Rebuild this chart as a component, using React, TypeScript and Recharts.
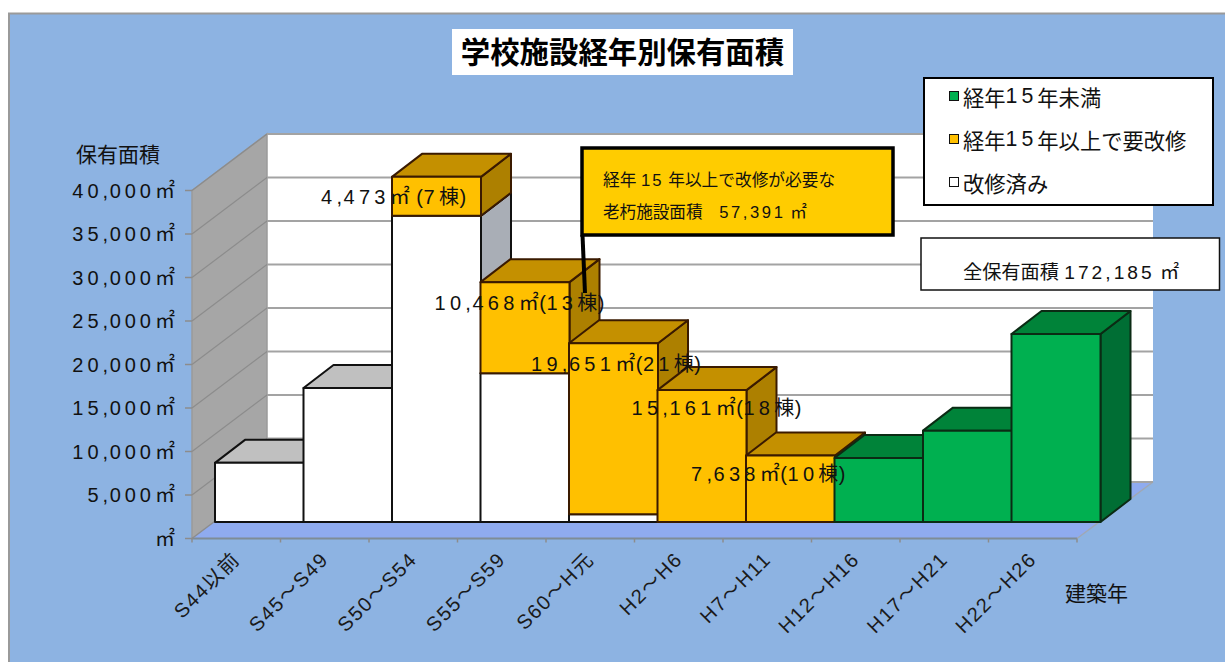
import React from "react";
import { BarChart, Bar, XAxis, YAxis, CartesianGrid, LabelList, Legend } from "recharts";

const categories = ["S44以前", "S45～S49", "S50～S54", "S55～S59", "S60～H元", "H2～H6", "H7～H11", "H12～H16", "H17～H21", "H22～H26"];
const renovatedValues = [6800, 15400, 35200, 17100, 900, 0, 0, 0, 0, 0];
const needsRepairValues = [0, 0, 4473, 10468, 19651, 15161, 7638, 0, 0, 0];
const under15Values = [0, 0, 0, 0, 0, 0, 0, 7350, 10500, 21600];
const repairLabels = ["", "", "4,473㎡ (7棟)", "10,468㎡(13棟)", "19,651㎡(21棟)", "15,161㎡(18棟)", "7,638㎡(10棟)", "", "", ""];
const yTicks = [0, 5000, 10000, 15000, 20000, 25000, 30000, 35000, 40000];
const seriesNames = { renovated: "改修済み", repair: "経年15年以上で要改修", under15: "経年15年未満" };

const rows = categories.map((category, i) => ({
  category,
  renovated: renovatedValues[i],
  repair: needsRepairValues[i],
  under15: under15Values[i],
  label: repairLabels[i],
}));

const FONT = '"Liberation Sans", "Noto Sans CJK JP", sans-serif';
const W = 1225;
const H = 662;
const PLOT = { left: 215, right: 1100, top: 174, bottom: 522 };
const BAR_DEPTH = { x: 30, y: -23 };
const FRONT = { x: -23, y: 16.5 }; // plot plane -> front axis plane
const BACK = { x: 52, y: -40 }; // plot plane -> back wall plane
const LABEL_NUDGE: Record<number, { dx: number; dy: number }> = {
  2: { dx: -71, dy: 27 },
  3: { dx: -46, dy: 28 },
  4: { dx: -38, dy: 28 },
  5: { dx: -26, dy: 25 },
  6: { dx: -55, dy: 25 },
};

const parts = (s: string) => s.split(/(\d+|,)/).filter(Boolean);
const spacingOf = (p: string, digit: number, other: number) => (/^\d/.test(p) ? digit : p === "," ? 1.5 : other);

const SpacedSvg = ({ s, spacing = 4, other = 0 }: { s: string; spacing?: number; other?: number }) => (
  <>
    {parts(s).map((p, i) => (
      <tspan key={i} style={{ letterSpacing: spacingOf(p, spacing, other) }}>{p}</tspan>
    ))}
  </>
);

const palette = {
  renovated: { front: "#FFFFFF", top: "#C0C0C0", side: "#A9AEB6", stroke: "#111111" },
  repair: { front: "#FFC000", top: "#C49000", side: "#AD8000", stroke: "#3A1A00" },
  under15: { front: "#00B050", top: "#008339", side: "#006E34", stroke: "#0B2B14" },
};

const box3d = (c: typeof palette.repair) => (props: any) => {
  const { x, y, width, height } = props;
  if (!height || height <= 0) return <g />;
  const dx = BAR_DEPTH.x;
  const dy = BAR_DEPTH.y;
  const common = { stroke: c.stroke, strokeWidth: 2, strokeLinejoin: "round" as const };
  return (
    <g>
      <polygon points={`${x + width},${y} ${x + width + dx},${y + dy} ${x + width + dx},${y + height + dy} ${x + width},${y + height}`} fill={c.side} {...common} />
      <polygon points={`${x},${y} ${x + dx},${y + dy} ${x + width + dx},${y + dy} ${x + width},${y}`} fill={c.top} {...common} />
      <rect x={x} y={y} width={width} height={height} fill={c.front} {...common} />
    </g>
  );
};

const gridLine = (props: any) => {
  const { x1, x2, y1, key } = props;
  return (
    <g key={key ?? y1}>
      <line x1={x1 + FRONT.x} y1={y1 + FRONT.y} x2={x1 + BACK.x} y2={y1 + BACK.y} stroke="#8C8C8C" strokeWidth={1.2} />
      <line x1={x1 + BACK.x} y1={y1 + BACK.y} x2={x2 + BACK.x + 1} y2={y1 + BACK.y} stroke="#A3A3A3" strokeWidth={2} />
    </g>
  );
};

const renderYTick = (props: any) => {
  const { y, payload } = props;
  const v = payload.value as number;
  const fy = y + FRONT.y;
  const fx = PLOT.left + FRONT.x;
  const label = v === 0 ? "㎡" : `${v.toLocaleString("en-US")}㎡`;
  return (
    <g key={v}>
      <line x1={fx - 7} y1={fy} x2={fx} y2={fy} stroke="#8C8C8C" strokeWidth={1.5} />
      <text x={fx - 17} y={fy + 7} textAnchor="end" fontFamily={FONT} fontSize={20} fill="#111">
        <SpacedSvg s={label} />
      </text>
    </g>
  );
};

const renderXTick = (props: any) => {
  const { x, payload, index } = props;
  const band = (PLOT.right - PLOT.left) / categories.length;
  const tx = x + FRONT.x;
  const ty = PLOT.bottom + FRONT.y;
  const mk = (px: number, k: string) => (
    <line key={k} x1={px} y1={ty} x2={px} y2={ty + 4} stroke="#8C8C8C" strokeWidth={1.5} />
  );
  const ax = tx + 5;
  const ay = ty + 22;
  return (
    <g key={payload.value}>
      {mk(tx - band / 2, "a")}
      {index === categories.length - 1 ? mk(tx + band / 2, "b") : null}
      <text
        x={ax}
        y={ay}
        textAnchor="end"
        transform={`rotate(-45 ${ax} ${ay})`}
        fontFamily={FONT}
        fontSize={20}
        letterSpacing={1.6}
        fill="#1a1a1a"
      >
        {payload.value}
      </text>
    </g>
  );
};

const RepairLabel = (props: any) => {
  const { index, value } = props;
  const x = props.x ?? props.viewBox?.x;
  const y = props.y ?? props.viewBox?.y;
  if (!value) return null;
  const n = LABEL_NUDGE[index] ?? { dx: 0, dy: 27 };
  return (
    <text x={x + n.dx} y={y + n.dy} fontFamily={FONT} fontSize={20} fill="#111">
      <SpacedSvg s={value} spacing={4.3} other={0.5} />
    </text>
  );
};

const LegendBox = (props: any) => {
  const items = [...(props.payload ?? [])].reverse();
  return (
    <div style={{ width: 291, height: 129, boxSizing: "border-box", border: "2px solid #000", background: "#fff", position: "relative", fontFamily: FONT }}>
      {items.map((it: any, i: number) => (
        <div key={i} style={{ position: "absolute", left: 24, top: 2 + i * 43, height: 30, display: "flex", alignItems: "center", whiteSpace: "nowrap", fontSize: 21.3, color: "#111" }}>
          <span style={{ width: 8, height: 8, border: "1.5px solid #111", background: it.color, marginRight: 4, flex: "none" }} />
          {parts(it.value).map((p: string, k: number) => (
            <span key={k} style={{ letterSpacing: /^\d/.test(p) ? 4 : 0 }}>{p}</span>
          ))}
        </div>
      ))}
    </div>
  );
};

const Backdrop = () => {
  const fl = PLOT.left + FRONT.x;
  const fr = PLOT.right + FRONT.x;
  const bl = PLOT.left + BACK.x;
  const br = PLOT.right + BACK.x + 1;
  const ftop = PLOT.top + FRONT.y;
  const fbot = PLOT.bottom + FRONT.y;
  const btop = PLOT.top + BACK.y;
  const bbot = PLOT.bottom + BACK.y;
  return (
    <svg width={W} height={H} style={{ position: "absolute", left: 0, top: 0 }}>
      <rect x={0} y={0} width={W} height={H} fill="#fff" />
      <rect x={9} y={13.5} width={W} height={H} fill="#8DB3E2" stroke="#9A9A9A" strokeWidth={2} />
      <rect x={bl} y={btop} width={br - bl} height={bbot - btop} fill="#fff" />
      <polygon points={`${fl},${ftop} ${bl},${btop} ${bl},${bbot} ${fl},${fbot}`} fill="#A6A6A6" stroke="#9A9A9A" strokeWidth={1.5} />
      <polygon points={`${fl},${fbot} ${bl},${bbot} ${br},${bbot} ${fr},${fbot}`} fill="#8FABEF" />
      <line x1={fl} y1={fbot} x2={fr} y2={fbot} stroke="#7F8C96" strokeWidth={2} />
      <line x1={fr} y1={fbot} x2={br} y2={bbot} stroke="#A0A8B4" strokeWidth={1.5} />
      <line x1={bl} y1={btop} x2={br} y2={btop} stroke="#A3A3A3" strokeWidth={2} />
    </svg>
  );
};

const Overlay = () => (
  <svg width={W} height={H} style={{ position: "absolute", left: 0, top: 0, pointerEvents: "none" }} fontFamily={FONT}>
    <rect x={452} y={29} width={341} height={46} fill="#fff" />
    <text x={622.5} y={63} textAnchor="middle" fontSize={29.4} fontWeight={700} fill="#000">学校施設経年別保有面積</text>
    <text x={76} y={162} fontSize={21} fill="#111">保有面積</text>
    <text x={1065} y={601} fontSize={21} fill="#111">建築年</text>

    <line x1={582.5} y1={235} x2={585} y2={293} stroke="#000" strokeWidth={4} />
    <rect x={582} y={148} width={311} height={87} fill="#FFCC00" stroke="#000" strokeWidth={3.5} />
    <text x={603} y={186} fontSize={16.7} fill="#111">経年 <tspan letterSpacing={2}>15</tspan> 年以上で改修が必要な</text>
    <text x={603} y={218} fontSize={16.6} fill="#111">老朽施設面積　<tspan letterSpacing={2.6}>57,391</tspan> ㎡</text>

    <rect x={921} y={238} width={298.5} height={52} fill="#fff" stroke="#111" strokeWidth={1.5} />
    <text x={963} y={279} fontSize={19.2} fill="#111">全保有面積 <tspan letterSpacing={3}>172,185</tspan> ㎡</text>
  </svg>
);

export default function App() {
  return (
    <div style={{ position: "absolute", left: 0, top: 0, width: W, height: H, overflow: "hidden" }}>
      <Backdrop />
      <div style={{ position: "absolute", left: 0, top: 0 }}>
        <BarChart
          width={W}
          height={H}
          data={rows}
          barCategoryGap={0}
          margin={{ left: PLOT.left - 1, right: W - PLOT.right, top: PLOT.top, bottom: H - PLOT.bottom - 1 }}
        >
          <CartesianGrid vertical={false} horizontal={gridLine} />
          <XAxis dataKey="category" interval={0} height={1} axisLine={false} tickLine={false} tick={renderXTick} />
          <YAxis domain={[0, 40000]} ticks={yTicks} width={1} axisLine={false} tickLine={false} tick={renderYTick} />
          <Legend
            layout="vertical"
            align="center"
            verticalAlign="middle"
            content={LegendBox}
            wrapperStyle={{ position: "absolute", left: 923, top: 77, width: 291, height: 129 }}
          />
          <Bar dataKey="renovated" name={seriesNames.renovated} stackId="a" fill={palette.renovated.front} isAnimationActive={false} shape={box3d(palette.renovated)} />
          <Bar dataKey="repair" name={seriesNames.repair} stackId="a" fill={palette.repair.front} isAnimationActive={false} shape={box3d(palette.repair)} />
          <Bar dataKey="under15" name={seriesNames.under15} stackId="a" fill={palette.under15.front} isAnimationActive={false} shape={box3d(palette.under15)}>
            <LabelList dataKey="label" content={RepairLabel} />
          </Bar>
        </BarChart>
      </div>
      <Overlay />
    </div>
  );
}
